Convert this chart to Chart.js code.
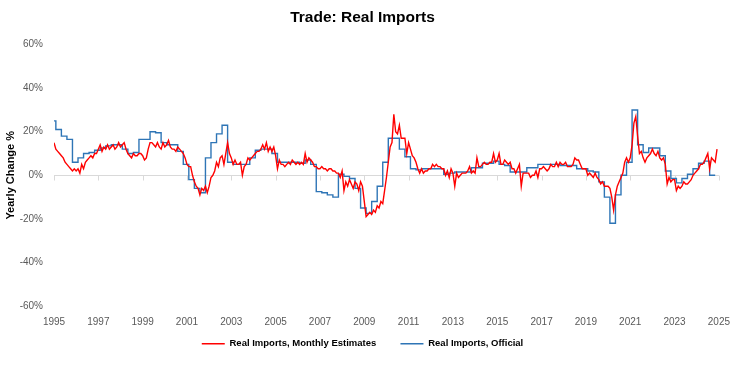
<!DOCTYPE html>
<html>
<head>
<meta charset="utf-8">
<script src="https://cdn.jsdelivr.net/npm/chart.js@4.4.1/dist/chart.umd.min.js"></script>
<style>
  html, body { margin: 0; padding: 0; background: #fff; }
</style>
</head>
<body>
<canvas id="chart" width="740" height="365"></canvas>
<script>
// monthly estimates, yoy %, Jan 1995 .. Dec 2024
const redStart = 1995;
const redMonthly = [
  15, 12, 11, 10, 9, 8, 6, 5, 4, 3, 2, 3,          // 1995
  2, 3, 1, 5, 3, 6, 7, 8, 9, 8, 10, 10,            // 1996
  12, 14, 11, 13, 12, 14, 12, 13, 14, 12, 13, 15,  // 1997
  13, 14, 15, 12, 10, 9, 8, 10, 9, 9, 10, 10,      // 1998
  9, 7, 8, 12, 15, 15, 14, 13, 15, 13, 12, 15,     // 1999
  13, 14, 16, 13, 12, 12, 11, 13, 12, 11, 10, 8,   // 2000
  5, 4, 4, 0, -3, -5, -6, -9, -6, -7, -5, -8,      // 2001
  -5, -1, 0, 2, 6, 4, 8, 9, 5, 10, 15, 10,         // 2002
  8, 5, 7, 5, 5, 6, 0, 4, 5, 8, 7, 8,              // 2003
  9, 10, 11, 11, 12, 14, 12, 15, 11, 13, 11, 13,   // 2004
  9, 3, 7, 5, 5, 4, 5, 6, 5, 7, 6, 5,              // 2005
  6, 5, 6, 5, 10, 6, 8, 7, 6, 4, 4, 3,             // 2006
  3, 4, 3, 3, 2, 3, 3, 2, 2, 1, 1, -1,             // 2007
  2, -7, -3, -5, -2, -4, -6, -3, -4, -7, -3, -5,   // 2008
  -12, -19, -18, -17, -18, -16, -17, -14, -15, -12, -13, -7, // 2009
  -1, 6, 13, 15, 28, 20, 19, 23, 17, 17, 17, 10,   // 2010
  15, 12, 9, 8, 6, 3, 1, 3, 1, 2, 2, 3,            // 2011
  3, 5, 4, 5, 4, 4, 3, 3, 0, 2, -1, 3,             // 2012
  1, -5, 1, -1, 0, 1, 1, 1, 2, 4, 1, 2,            // 2013
  1, 8, 4, 4, 5, 6, 5, 5, 6, 6, 10, 6,             // 2014
  7, 10, 5, 5, 7, 6, 5, 6, 3, 3, 1, 3,             // 2015
  5, -5, 1, 1, 1, 1, -1, 0, 0, 2, -1, 3,           // 2016
  3, 4, 3, 2, 3, 5, 4, 4, 6, 4, 6, 5,              // 2017
  5, 6, 4, 4, 4, 5, 8, 7, 7, 5, 3, 3,              // 2018
  3, 0, 1, 0, -1, 1, -1, -2, -4, -3, -5, -5,       // 2019
  -5, -6, -10, -16, -9, -5, -3, -1, 1, 6, 8, 6,    // 2020
  8, 14, 24, 27, 18, 10, 11, 8, 6, 8, 9, 10,       // 2021
  12, 10, 9, 11, 8, 7, 8, 5, -4, -1, -3, -2,       // 2022
  -2, -7, -5, -6, -5, -3, -4, -4, -3, -2, 0, 1,    // 2023
  2, 3, 5, 5, 6, 8, 10, 3, 8, 7, 6, 12             // 2024
];

// official figures, quarterly, 1994 Q4 .. 2024 Q4
const blueStart = 1994.75 + 1 / 12;
const blueQuarterly = [
  12,
  25, 21, 18, 16.5,      // 1995
  6, 8, 10, 10.5,        // 1996
  11.5, 12.5, 13.5, 14,  // 1997
  14, 12, 10, 10.5,      // 1998
  16.5, 16.5, 20, 19.5,  // 1999
  15, 14, 14, 11,        // 2000
  5, -2, -6, -8,         // 2001
  8, 15, 19, 23,         // 2002
  6, 5, 5, 5,            // 2003
  8, 11.5, 12, 12,       // 2004
  10, 6, 6, 6,           // 2005
  6, 5.5, 7, 5,          // 2006
  -7.5, -8, -9, -10,     // 2007
  0.5, -0.5, -1.5, -6,   // 2008
  -15, -17.5, -12, -5,   // 2009
  6, 17, 17, 12,         // 2010
  8.5, 3, 2.5, 3,        // 2011
  3, 3, 3, 0.5,          // 2012
  1, 1.5, 1.5, 1.5,      // 2013
  3.5, 3.5, 5.5, 5.5,    // 2014
  6.5, 5, 4.5, 1.5,      // 2015
  1.5, 1.5, 3.5, 3.5,    // 2016
  5, 5, 5, 5,            // 2017
  4.5, 4.5, 4.5, 3,      // 2018
  3, 2, 1.5, -3,         // 2019
  -10, -22, -9, 0,       // 2020
  6, 30, 14, 10.5,       // 2021
  12.5, 12.5, 9, 2,      // 2022
  -1.5, -3.5, -1.5, 0.5, // 2023
  3, 5.5, 6.5, 0         // 2024
];

const seriesNames = ['Real Imports, Monthly Estimates', 'Real Imports, Official'];
const xTickYears = [1995, 1997, 1999, 2001, 2003, 2005, 2007, 2009, 2011, 2013, 2015, 2017, 2019, 2021, 2023, 2025];
const yTickValues = [-60, -40, -20, 0, 20, 40, 60];

const toPoints = (vals, start, step) => vals.map((v, i) => ({ x: start + i * step, y: v }));

// little tick marks hanging below the zero line, like the excel category axis
const zeroTicks = {
  id: 'zeroTicks',
  beforeDatasetsDraw(chart) {
    const { ctx, scales: { x, y } } = chart;
    const y0 = Math.round(y.getPixelForValue(0)) + 0.5;
    ctx.save();
    ctx.strokeStyle = '#d9d9d9';
    ctx.lineWidth = 1;
    xTickYears.forEach(yr => {
      const px = Math.round(x.getPixelForValue(yr)) + 0.5;
      ctx.beginPath();
      ctx.moveTo(px, y0);
      ctx.lineTo(px, y0 + 5);
      ctx.stroke();
    });
    ctx.restore();
  }
};

Chart.defaults.font.family = "'Liberation Sans', Arial, sans-serif";

new Chart(document.getElementById('chart'), {
  type: 'line',
  data: {
    datasets: [{
      label: seriesNames[0] + '     ',   // a bit more room before the 2nd legend entry
      data: toPoints(redMonthly, redStart, 1 / 12),
      borderColor: '#ff0000',
      backgroundColor: '#ff0000',
      borderWidth: 1.4
    }, {
      label: seriesNames[1],
      data: toPoints(blueQuarterly, blueStart, 0.25),
      borderColor: '#2e75b6',
      backgroundColor: '#2e75b6',
      borderWidth: 1.4,
      stepped: 'after'
    }]
  },
  options: {
    responsive: false,
    animation: false,
    devicePixelRatio: 1,
    layout: { padding: { left: 0, right: 15, top: 0, bottom: 6.5 } },
    elements: { point: { radius: 0 }, line: { tension: 0 } },
    plugins: {
      title: {
        display: true,
        text: 'Trade: Real Imports',
        color: '#000',
        font: { size: 15.5, weight: 'bold' },
        padding: { top: 8, bottom: 18 }
      },
      legend: {
        position: 'bottom',
        labels: {
          usePointStyle: true,
          pointStyle: 'line',
          pointStyleWidth: 23,
          padding: 11,
          color: '#000',
          font: { size: 9.5, weight: 'bold' }
        }
      },
      tooltip: { enabled: false }
    },
    scales: {
      x: {
        type: 'linear',
        min: 1995,
        max: 2025,
        afterBuildTicks: s => { s.ticks = xTickYears.map(v => ({ value: v })); },
        afterFit: s => { s.height = 22; },
        grid: { display: false, drawTicks: false },
        border: { display: false },
        ticks: {
          padding: 10,
          autoSkip: false,
          maxRotation: 0,
          color: '#595959',
          font: { size: 10 },
          callback: v => String(v)
        }
      },
      y: {
        min: -60,
        max: 60,
        afterBuildTicks: s => { s.ticks = yTickValues.map(v => ({ value: v })); },
        afterFit: s => { s.width = 54; },
        grid: {
          color: c => (c.tick && c.tick.value === 0 ? '#d9d9d9' : 'rgba(0,0,0,0)'),
          drawTicks: false
        },
        border: { display: false },
        ticks: {
          padding: 11,
          color: '#595959',
          font: { size: 10 },
          callback: v => v + '%'
        },
        title: {
          display: true,
          text: 'Yearly Change %',
          color: '#000',
          font: { size: 11, weight: 'bold' },
          padding: { top: 4, bottom: 0 }
        }
      }
    }
  },
  plugins: [zeroTicks]
});
</script>
</body>
</html>
